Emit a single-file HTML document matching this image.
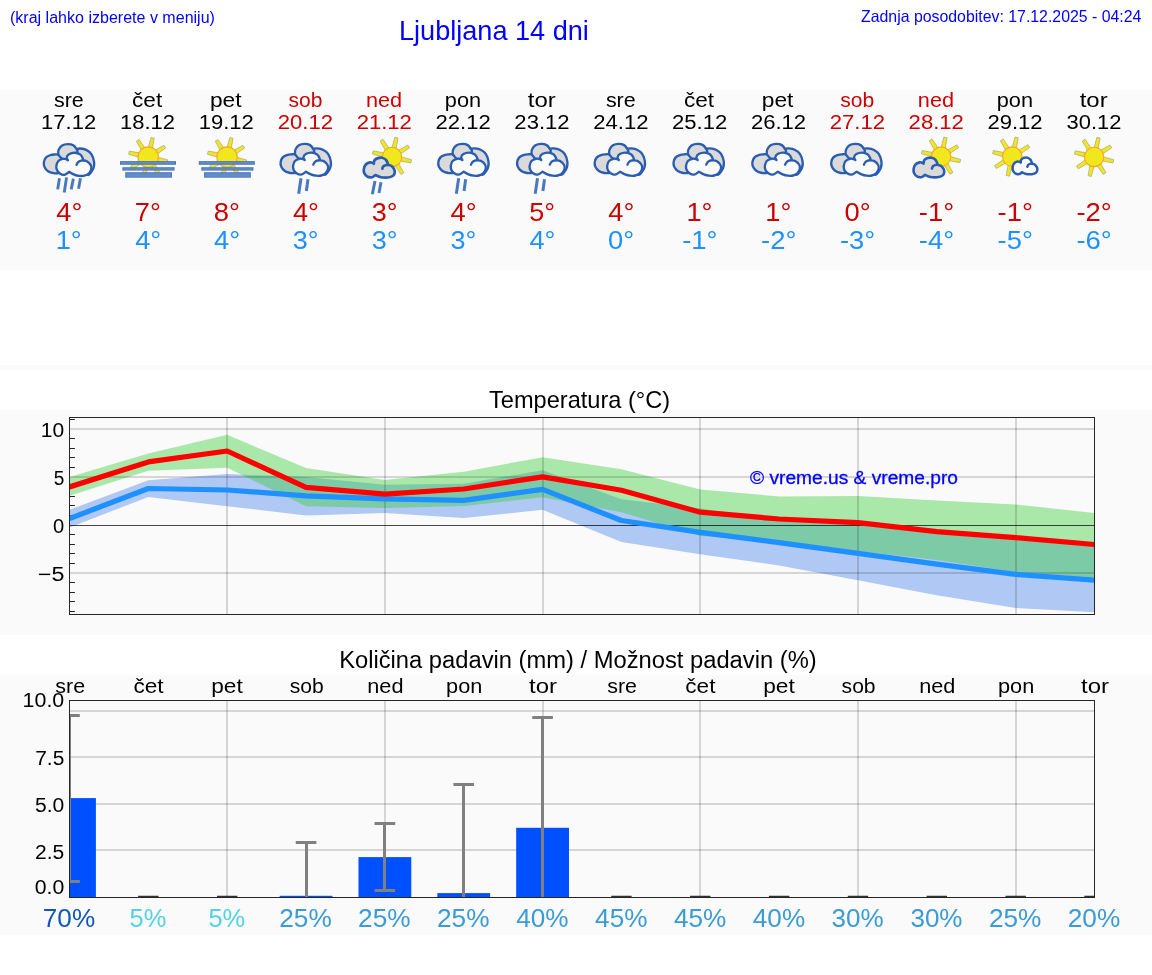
<!DOCTYPE html>
<html lang="sl"><head><meta charset="utf-8"><title>Ljubljana 14 dni</title>
<style>
html,body{margin:0;padding:0;background:#fff}
body{width:1152px;height:975px;position:relative;overflow:hidden;font-family:"Liberation Sans",sans-serif}
.h{position:absolute;color:#0000ff;white-space:nowrap;line-height:1;will-change:transform}
#hl{left:10.0px;top:8.6px;font-size:16.04px}
#hr{right:10.3px;top:9.4px;font-size:15.87px}
#ht{left:398.8px;top:16.5px;font-size:27.1px}
svg{position:absolute;left:0;top:0;will-change:transform}
svg text{font-family:"Liberation Sans",sans-serif}
</style></head><body>
<div class="h" id="hl">(kraj lahko izberete v meniju)</div>
<div class="h" id="ht">Ljubljana 14 dni</div>
<div class="h" id="hr">Zadnja posodobitev: 17.12.2025 - 04:24</div>
<svg width="1152" height="975" viewBox="0 0 1152 975">
<rect x="0" y="90" width="1152" height="180" fill="#fafafa"/>
<text x="53.99" y="106.50" font-size="20.48" fill="#000" textLength="29.77" lengthAdjust="spacingAndGlyphs">sre</text>
<text x="41.09" y="129.00" font-size="20.59" fill="#000" textLength="55.04" lengthAdjust="spacingAndGlyphs">17.12</text>
<path d="M76.44 148.94C77.11 148.87 78.83 148.38 80.45 148.54C82.08 148.70 84.37 148.99 86.18 149.91C88.00 150.84 90.02 152.11 91.34 154.10C92.66 156.08 93.73 159.54 94.09 161.83C94.45 164.13 94.03 166.13 93.52 167.85C93.01 169.57 91.99 170.96 91.05 172.15C90.12 173.34 89.29 175.49 87.90 175.01C86.52 174.54 84.56 172.15 82.75 169.28C80.93 166.42 78.07 161.21 77.01 157.82C75.96 154.43 76.54 150.42 76.44 148.94Z" fill="#dadada" stroke="#2a5db0" stroke-width="2.35" stroke-linejoin="round"/><path d="M58.39 173.18C57.58 173.18 55.24 173.50 53.52 173.18C51.80 172.87 49.57 172.32 48.07 171.29C46.58 170.26 45.22 168.47 44.52 166.99C43.82 165.51 43.68 163.94 43.89 162.41C44.10 160.88 44.75 159.02 45.78 157.82C46.81 156.63 48.60 155.80 50.08 155.24C51.56 154.69 53.31 154.59 54.67 154.50C56.02 154.40 57.07 154.12 58.22 154.67C59.36 155.22 60.80 155.86 61.54 157.82C62.29 159.78 63.21 163.86 62.69 166.42C62.16 168.98 59.11 172.05 58.39 173.18Z" fill="#dadada" stroke="#2a5db0" stroke-width="2.35" stroke-linejoin="round"/><path d="M58.22 154.38C58.29 153.62 58.03 151.28 58.68 149.80C59.33 148.32 60.59 146.46 62.11 145.50C63.64 144.55 65.98 144.10 67.85 144.07C69.71 144.04 71.84 144.47 73.29 145.33C74.74 146.19 75.89 148.10 76.56 149.23C77.22 150.35 78.18 150.66 77.30 152.09C76.42 153.52 73.72 156.68 71.28 157.82C68.85 158.97 64.87 159.54 62.69 158.97C60.51 158.40 58.96 155.15 58.22 154.38Z" fill="#dadada" stroke="#2a5db0" stroke-width="2.35" stroke-linejoin="round"/><path d="M69.28 171.86C68.47 172.36 65.98 174.58 64.41 174.84C62.83 175.10 61.08 174.24 59.82 173.41C58.56 172.58 57.42 171.12 56.84 169.86C56.27 168.60 56.16 167.28 56.38 165.85C56.61 164.41 57.17 162.41 58.22 161.26C59.27 160.11 61.32 159.30 62.69 158.97C64.05 158.63 65.53 159.05 66.41 159.26C67.29 159.47 67.70 160.07 67.96 160.23C67.75 159.78 66.53 158.53 66.70 157.54C66.87 156.54 67.65 155.06 68.99 154.27C70.33 153.48 72.81 152.71 74.72 152.78C76.63 152.85 79.09 153.69 80.45 154.67C81.82 155.65 82.46 157.73 82.92 158.68C83.38 159.64 83.16 160.11 83.20 160.40C83.80 160.54 85.54 160.54 86.76 161.26C87.97 161.98 89.72 163.46 90.48 164.70C91.25 165.94 91.58 167.28 91.34 168.71C91.10 170.14 90.20 172.13 89.05 173.30C87.90 174.46 86.09 175.27 84.46 175.70C82.84 176.13 81.03 176.07 79.31 175.87C77.59 175.68 75.82 175.22 74.15 174.56C72.48 173.89 70.09 172.31 69.28 171.86Z" fill="#fafafa" stroke="#2a5db0" stroke-width="2.35" stroke-linejoin="round"/><path d="M76.56 164.81C76.78 164.41 77.22 163.08 77.87 162.41C78.52 161.74 79.56 161.14 80.45 160.80C81.34 160.47 82.75 160.47 83.20 160.40" fill="none" stroke="#2a5db0" stroke-width="2.35" stroke-linecap="round"/><line x1="59.49" y1="178.31" x2="57.65" y2="189.38" stroke="#4a78be" stroke-width="2.9"/><line x1="66.57" y1="177.38" x2="64.23" y2="192.46" stroke="#4a78be" stroke-width="2.9"/><line x1="73.34" y1="178.62" x2="71.18" y2="189.38" stroke="#4a78be" stroke-width="2.9"/><line x1="80.42" y1="178.31" x2="78.57" y2="188.77" stroke="#4a78be" stroke-width="2.9"/>
<text x="56.37" y="220.80" font-size="25.08" fill="#cc0000" textLength="26.08" lengthAdjust="spacingAndGlyphs">4°</text>
<text x="55.65" y="248.80" font-size="25.08" fill="#1e90ff" textLength="26.06" lengthAdjust="spacingAndGlyphs">1°</text>
<text x="132.10" y="106.50" font-size="20.48" fill="#000" textLength="30.09" lengthAdjust="spacingAndGlyphs">čet</text>
<text x="119.94" y="129.00" font-size="20.59" fill="#000" textLength="55.04" lengthAdjust="spacingAndGlyphs">18.12</text>
<polygon points="157.17,161.33 167.02,163.14 167.76,159.92 158.12,157.24" fill="#f0e81c" stroke="#9c9c8c" stroke-width="0.65" stroke-linejoin="round"/><polygon points="151.56,166.44 157.24,174.68 160.03,172.93 155.12,164.21" fill="#f0e81c" stroke="#9c9c8c" stroke-width="0.65" stroke-linejoin="round"/><polygon points="143.97,166.08 142.16,175.92 145.37,176.67 148.06,167.02" fill="#f0e81c" stroke="#9c9c8c" stroke-width="0.65" stroke-linejoin="round"/><polygon points="138.86,160.46 130.62,166.14 132.36,168.94 141.08,164.02" fill="#f0e81c" stroke="#9c9c8c" stroke-width="0.65" stroke-linejoin="round"/><polygon points="139.22,152.87 129.37,151.06 128.63,154.28 138.27,156.96" fill="#f0e81c" stroke="#9c9c8c" stroke-width="0.65" stroke-linejoin="round"/><polygon points="144.84,147.76 139.16,139.52 136.36,141.27 141.27,149.99" fill="#f0e81c" stroke="#9c9c8c" stroke-width="0.65" stroke-linejoin="round"/><polygon points="152.42,148.12 154.24,138.28 151.02,137.53 148.33,147.18" fill="#f0e81c" stroke="#9c9c8c" stroke-width="0.65" stroke-linejoin="round"/><polygon points="157.53,153.74 165.78,148.06 164.03,145.26 155.31,150.18" fill="#f0e81c" stroke="#9c9c8c" stroke-width="0.65" stroke-linejoin="round"/><circle cx="148.20" cy="157.10" r="10.20" fill="#f0e81c" stroke="#f8a824" stroke-width="1.1"/><rect x="120.00" y="161.10" width="56.00" height="3.70" fill="#4a79c0"/><rect x="121.20" y="162.10" width="53.60" height="1.70" fill="#678bc6"/><rect x="122.40" y="167.20" width="52.20" height="3.40" fill="#4a79c0"/><rect x="123.60" y="168.20" width="49.80" height="1.40" fill="#678bc6"/><rect x="125.20" y="172.20" width="46.80" height="5.50" fill="#4a79c0"/><rect x="126.40" y="173.20" width="44.40" height="3.50" fill="#678bc6"/>
<text x="134.84" y="220.80" font-size="25.08" fill="#cc0000" textLength="26.05" lengthAdjust="spacingAndGlyphs">7°</text>
<text x="135.21" y="248.80" font-size="25.08" fill="#1e90ff" textLength="26.08" lengthAdjust="spacingAndGlyphs">4°</text>
<text x="209.96" y="106.50" font-size="20.48" fill="#000" textLength="31.57" lengthAdjust="spacingAndGlyphs">pet</text>
<text x="198.79" y="129.00" font-size="20.59" fill="#000" textLength="55.04" lengthAdjust="spacingAndGlyphs">19.12</text>
<polygon points="236.02,161.33 245.87,163.14 246.61,159.92 236.97,157.24" fill="#f0e81c" stroke="#9c9c8c" stroke-width="0.65" stroke-linejoin="round"/><polygon points="230.40,166.44 236.08,174.68 238.88,172.93 233.96,164.21" fill="#f0e81c" stroke="#9c9c8c" stroke-width="0.65" stroke-linejoin="round"/><polygon points="222.81,166.08 221.00,175.92 224.22,176.67 226.91,167.02" fill="#f0e81c" stroke="#9c9c8c" stroke-width="0.65" stroke-linejoin="round"/><polygon points="217.70,160.46 209.46,166.14 211.21,168.94 219.93,164.02" fill="#f0e81c" stroke="#9c9c8c" stroke-width="0.65" stroke-linejoin="round"/><polygon points="218.06,152.87 208.22,151.06 207.48,154.28 217.12,156.96" fill="#f0e81c" stroke="#9c9c8c" stroke-width="0.65" stroke-linejoin="round"/><polygon points="223.68,147.76 218.00,139.52 215.20,141.27 220.12,149.99" fill="#f0e81c" stroke="#9c9c8c" stroke-width="0.65" stroke-linejoin="round"/><polygon points="231.27,148.12 233.08,138.28 229.87,137.53 227.18,147.18" fill="#f0e81c" stroke="#9c9c8c" stroke-width="0.65" stroke-linejoin="round"/><polygon points="236.38,153.74 244.62,148.06 242.87,145.26 234.16,150.18" fill="#f0e81c" stroke="#9c9c8c" stroke-width="0.65" stroke-linejoin="round"/><circle cx="227.04" cy="157.10" r="10.20" fill="#f0e81c" stroke="#f8a824" stroke-width="1.1"/><rect x="198.85" y="161.10" width="56.00" height="3.70" fill="#4a79c0"/><rect x="200.05" y="162.10" width="53.60" height="1.70" fill="#678bc6"/><rect x="201.25" y="167.20" width="52.20" height="3.40" fill="#4a79c0"/><rect x="202.45" y="168.20" width="49.80" height="1.40" fill="#678bc6"/><rect x="204.05" y="172.20" width="46.80" height="5.50" fill="#4a79c0"/><rect x="205.25" y="173.20" width="44.40" height="3.50" fill="#678bc6"/>
<text x="213.72" y="220.80" font-size="25.08" fill="#cc0000" textLength="26.19" lengthAdjust="spacingAndGlyphs">8°</text>
<text x="214.06" y="248.80" font-size="25.08" fill="#1e90ff" textLength="26.08" lengthAdjust="spacingAndGlyphs">4°</text>
<text x="288.40" y="106.50" font-size="20.48" fill="#cc0000" textLength="33.98" lengthAdjust="spacingAndGlyphs">sob</text>
<text x="277.84" y="129.00" font-size="20.59" fill="#cc0000" textLength="55.20" lengthAdjust="spacingAndGlyphs">20.12</text>
<path d="M313.19 148.74C313.86 148.67 315.58 148.18 317.20 148.34C318.83 148.50 321.12 148.79 322.93 149.71C324.75 150.64 326.77 151.91 328.09 153.90C329.41 155.88 330.48 159.34 330.84 161.63C331.20 163.93 330.78 165.93 330.27 167.65C329.76 169.37 328.74 170.76 327.80 171.95C326.87 173.14 326.04 175.29 324.65 174.81C323.27 174.34 321.31 171.95 319.50 169.08C317.68 166.22 314.82 161.01 313.76 157.62C312.71 154.23 313.29 150.22 313.19 148.74Z" fill="#dadada" stroke="#2a5db0" stroke-width="2.35" stroke-linejoin="round"/><path d="M295.14 172.98C294.33 172.98 291.99 173.30 290.27 172.98C288.55 172.67 286.32 172.12 284.82 171.09C283.33 170.06 281.97 168.27 281.27 166.79C280.57 165.31 280.43 163.74 280.64 162.21C280.85 160.68 281.50 158.82 282.53 157.62C283.56 156.43 285.35 155.60 286.83 155.04C288.31 154.49 290.06 154.39 291.42 154.30C292.77 154.20 293.82 153.92 294.97 154.47C296.11 155.02 297.55 155.66 298.29 157.62C299.04 159.58 299.96 163.66 299.44 166.22C298.91 168.78 295.86 171.85 295.14 172.98Z" fill="#dadada" stroke="#2a5db0" stroke-width="2.35" stroke-linejoin="round"/><path d="M294.97 154.18C295.04 153.42 294.78 151.08 295.43 149.60C296.08 148.12 297.34 146.26 298.86 145.30C300.39 144.35 302.73 143.90 304.60 143.87C306.46 143.84 308.59 144.27 310.04 145.13C311.49 145.99 312.64 147.90 313.31 149.03C313.97 150.15 314.93 150.46 314.05 151.89C313.17 153.32 310.47 156.48 308.03 157.62C305.60 158.77 301.62 159.34 299.44 158.77C297.26 158.20 295.71 154.95 294.97 154.18Z" fill="#dadada" stroke="#2a5db0" stroke-width="2.35" stroke-linejoin="round"/><path d="M306.03 171.66C305.22 172.16 302.73 174.38 301.16 174.64C299.58 174.90 297.83 174.04 296.57 173.21C295.31 172.38 294.17 170.92 293.59 169.66C293.02 168.40 292.91 167.08 293.13 165.65C293.36 164.21 293.92 162.21 294.97 161.06C296.02 159.91 298.07 159.10 299.44 158.77C300.80 158.43 302.28 158.85 303.16 159.06C304.04 159.27 304.45 159.87 304.71 160.03C304.50 159.58 303.28 158.33 303.45 157.34C303.62 156.34 304.40 154.86 305.74 154.07C307.08 153.28 309.56 152.51 311.47 152.58C313.38 152.65 315.84 153.49 317.20 154.47C318.57 155.45 319.21 157.53 319.67 158.48C320.13 159.44 319.91 159.91 319.95 160.20C320.55 160.34 322.29 160.34 323.51 161.06C324.72 161.78 326.47 163.26 327.23 164.50C328.00 165.74 328.33 167.08 328.09 168.51C327.85 169.94 326.95 171.93 325.80 173.10C324.65 174.26 322.84 175.07 321.21 175.50C319.59 175.93 317.78 175.87 316.06 175.67C314.34 175.48 312.57 175.02 310.90 174.36C309.23 173.69 306.84 172.11 306.03 171.66Z" fill="#fafafa" stroke="#2a5db0" stroke-width="2.35" stroke-linejoin="round"/><path d="M313.31 164.61C313.53 164.21 313.97 162.88 314.62 162.21C315.27 161.54 316.31 160.94 317.20 160.60C318.09 160.27 319.50 160.27 319.95 160.20" fill="none" stroke="#2a5db0" stroke-width="2.35" stroke-linecap="round"/><line x1="301.00" y1="178.33" x2="298.67" y2="193.67" stroke="#4a78be" stroke-width="3.0"/><line x1="308.00" y1="179.33" x2="306.33" y2="191.00" stroke="#4a78be" stroke-width="3.0"/>
<text x="292.91" y="220.80" font-size="25.08" fill="#cc0000" textLength="26.08" lengthAdjust="spacingAndGlyphs">4°</text>
<text x="292.83" y="248.80" font-size="25.08" fill="#1e90ff" textLength="25.81" lengthAdjust="spacingAndGlyphs">3°</text>
<text x="365.96" y="106.50" font-size="20.48" fill="#cc0000" textLength="36.20" lengthAdjust="spacingAndGlyphs">ned</text>
<text x="356.68" y="129.00" font-size="20.59" fill="#cc0000" textLength="55.20" lengthAdjust="spacingAndGlyphs">21.12</text>
<polygon points="400.49,161.02 410.82,162.94 411.57,159.72 401.44,156.92" fill="#f0e81c" stroke="#9c9c8c" stroke-width="0.65" stroke-linejoin="round"/><polygon points="395.09,165.81 401.04,174.48 403.84,172.73 398.66,163.59" fill="#f0e81c" stroke="#9c9c8c" stroke-width="0.65" stroke-linejoin="round"/><polygon points="387.88,165.39 385.96,175.72 389.18,176.47 391.98,166.34" fill="#f0e81c" stroke="#9c9c8c" stroke-width="0.65" stroke-linejoin="round"/><polygon points="383.09,159.99 374.42,165.94 376.17,168.74 385.31,163.56" fill="#f0e81c" stroke="#9c9c8c" stroke-width="0.65" stroke-linejoin="round"/><polygon points="383.51,152.78 373.18,150.86 372.43,154.08 382.56,156.88" fill="#f0e81c" stroke="#9c9c8c" stroke-width="0.65" stroke-linejoin="round"/><polygon points="388.91,147.99 382.96,139.32 380.16,141.07 385.34,150.21" fill="#f0e81c" stroke="#9c9c8c" stroke-width="0.65" stroke-linejoin="round"/><polygon points="396.12,148.41 398.04,138.08 394.82,137.33 392.02,147.46" fill="#f0e81c" stroke="#9c9c8c" stroke-width="0.65" stroke-linejoin="round"/><polygon points="400.91,153.81 409.58,147.86 407.83,145.06 398.69,150.24" fill="#f0e81c" stroke="#9c9c8c" stroke-width="0.65" stroke-linejoin="round"/><circle cx="392.00" cy="156.90" r="9.70" fill="#f0e81c" stroke="#f8a824" stroke-width="1.1"/><path d="M375.39 175.07C374.86 175.42 373.51 176.92 372.20 177.21C370.90 177.50 368.87 177.43 367.57 176.81C366.26 176.18 365.01 174.68 364.38 173.44C363.75 172.21 363.61 170.84 363.80 169.39C363.99 167.94 364.52 165.91 365.54 164.75C366.55 163.59 368.63 162.73 369.88 162.44C371.14 162.15 372.41 162.80 373.07 163.01C373.73 163.23 373.70 163.59 373.82 163.71C373.96 163.11 373.94 161.05 374.64 160.12C375.33 159.18 376.76 158.48 378.00 158.09C379.23 157.70 380.75 157.51 382.05 157.80C383.36 158.09 384.87 158.91 385.82 159.83C386.77 160.75 387.37 162.46 387.73 163.30C388.09 164.14 387.92 164.61 387.96 164.87C388.52 165.04 390.33 165.26 391.32 165.91C392.32 166.57 393.35 167.75 393.93 168.81C394.51 169.87 394.94 171.13 394.80 172.29C394.66 173.44 394.22 174.89 393.06 175.76C391.90 176.63 389.87 177.26 387.85 177.50C385.82 177.74 382.97 177.62 380.89 177.21C378.82 176.81 376.31 175.42 375.39 175.07Z" fill="#dadada" stroke="#2a5db0" stroke-width="2.7" stroke-linejoin="round"/><path d="M382.34 168.64C382.49 168.28 382.68 167.06 383.21 166.49C383.74 165.92 384.74 165.49 385.53 165.22C386.32 164.95 387.56 164.93 387.96 164.87" fill="none" stroke="#2a5db0" stroke-width="2.7" stroke-linecap="round"/><line x1="375.00" y1="181.00" x2="372.33" y2="194.33" stroke="#4a78be" stroke-width="3.0"/><line x1="381.00" y1="182.33" x2="379.00" y2="193.00" stroke="#4a78be" stroke-width="3.0"/>
<text x="371.68" y="220.80" font-size="25.08" fill="#cc0000" textLength="25.81" lengthAdjust="spacingAndGlyphs">3°</text>
<text x="371.68" y="248.80" font-size="25.08" fill="#1e90ff" textLength="25.81" lengthAdjust="spacingAndGlyphs">3°</text>
<text x="444.83" y="106.50" font-size="20.48" fill="#000" textLength="36.22" lengthAdjust="spacingAndGlyphs">pon</text>
<text x="435.53" y="129.00" font-size="20.59" fill="#000" textLength="55.20" lengthAdjust="spacingAndGlyphs">22.12</text>
<path d="M470.88 148.74C471.55 148.67 473.27 148.18 474.90 148.34C476.52 148.50 478.81 148.79 480.63 149.71C482.44 150.64 484.47 151.91 485.78 153.90C487.10 155.88 488.17 159.34 488.53 161.63C488.90 163.93 488.47 165.93 487.96 167.65C487.45 169.37 486.43 170.76 485.50 171.95C484.56 173.14 483.73 175.29 482.34 174.81C480.96 174.34 479.00 171.95 477.19 169.08C475.37 166.22 472.51 161.01 471.46 157.62C470.41 154.23 470.98 150.22 470.88 148.74Z" fill="#dadada" stroke="#2a5db0" stroke-width="2.35" stroke-linejoin="round"/><path d="M452.83 172.98C452.02 172.98 449.68 173.30 447.96 172.98C446.24 172.67 444.02 172.12 442.52 171.09C441.02 170.06 439.66 168.27 438.96 166.79C438.27 165.31 438.12 163.74 438.33 162.21C438.54 160.68 439.19 158.82 440.22 157.62C441.26 156.43 443.04 155.60 444.52 155.04C446.00 154.49 447.75 154.39 449.11 154.30C450.46 154.20 451.51 153.92 452.66 154.47C453.81 155.02 455.24 155.66 455.98 157.62C456.73 159.58 457.66 163.66 457.13 166.22C456.60 168.78 453.55 171.85 452.83 172.98Z" fill="#dadada" stroke="#2a5db0" stroke-width="2.35" stroke-linejoin="round"/><path d="M452.66 154.18C452.74 153.42 452.47 151.08 453.12 149.60C453.77 148.12 455.03 146.26 456.56 145.30C458.09 144.35 460.43 143.90 462.29 143.87C464.15 143.84 466.28 144.27 467.73 145.13C469.18 145.99 470.33 147.90 471.00 149.03C471.67 150.15 472.62 150.46 471.74 151.89C470.86 153.32 468.16 156.48 465.73 157.62C463.29 158.77 459.31 159.34 457.13 158.77C454.95 158.20 453.41 154.95 452.66 154.18Z" fill="#dadada" stroke="#2a5db0" stroke-width="2.35" stroke-linejoin="round"/><path d="M463.72 171.66C462.91 172.16 460.43 174.38 458.85 174.64C457.27 174.90 455.53 174.04 454.26 173.21C453.00 172.38 451.86 170.92 451.28 169.66C450.71 168.40 450.60 167.08 450.83 165.65C451.06 164.21 451.61 162.21 452.66 161.06C453.71 159.91 455.76 159.10 457.13 158.77C458.50 158.43 459.98 158.85 460.85 159.06C461.73 159.27 462.14 159.87 462.40 160.03C462.19 159.58 460.97 158.33 461.14 157.34C461.31 156.34 462.10 154.86 463.43 154.07C464.77 153.28 467.25 152.51 469.16 152.58C471.07 152.65 473.53 153.49 474.90 154.47C476.26 155.45 476.90 157.53 477.36 158.48C477.82 159.44 477.60 159.91 477.65 160.20C478.24 160.34 479.99 160.34 481.20 161.06C482.41 161.78 484.16 163.26 484.92 164.50C485.69 165.74 486.02 167.08 485.78 168.51C485.54 169.94 484.64 171.93 483.49 173.10C482.34 174.26 480.53 175.07 478.91 175.50C477.28 175.93 475.47 175.87 473.75 175.67C472.03 175.48 470.26 175.02 468.59 174.36C466.92 173.69 464.53 172.11 463.72 171.66Z" fill="#fafafa" stroke="#2a5db0" stroke-width="2.35" stroke-linejoin="round"/><path d="M471.00 164.61C471.22 164.21 471.67 162.88 472.32 162.21C472.97 161.54 474.01 160.94 474.90 160.60C475.78 160.27 477.19 160.27 477.65 160.20" fill="none" stroke="#2a5db0" stroke-width="2.35" stroke-linecap="round"/><line x1="458.69" y1="178.33" x2="456.36" y2="193.67" stroke="#4a78be" stroke-width="3.0"/><line x1="465.69" y1="179.33" x2="464.03" y2="191.00" stroke="#4a78be" stroke-width="3.0"/>
<text x="450.60" y="220.80" font-size="25.08" fill="#cc0000" textLength="26.08" lengthAdjust="spacingAndGlyphs">4°</text>
<text x="450.52" y="248.80" font-size="25.08" fill="#1e90ff" textLength="25.81" lengthAdjust="spacingAndGlyphs">3°</text>
<text x="527.81" y="106.50" font-size="20.48" fill="#000" textLength="27.97" lengthAdjust="spacingAndGlyphs">tor</text>
<text x="514.38" y="129.00" font-size="20.59" fill="#000" textLength="55.20" lengthAdjust="spacingAndGlyphs">23.12</text>
<path d="M549.73 148.74C550.40 148.67 552.12 148.18 553.74 148.34C555.36 148.50 557.66 148.79 559.47 149.71C561.29 150.64 563.31 151.91 564.63 153.90C565.95 155.88 567.02 159.34 567.38 161.63C567.74 163.93 567.31 165.93 566.81 167.65C566.30 169.37 565.28 170.76 564.34 171.95C563.41 173.14 562.58 175.29 561.19 174.81C559.81 174.34 557.85 171.95 556.03 169.08C554.22 166.22 551.35 161.01 550.30 157.62C549.25 154.23 549.83 150.22 549.73 148.74Z" fill="#dadada" stroke="#2a5db0" stroke-width="2.35" stroke-linejoin="round"/><path d="M531.68 172.98C530.87 172.98 528.53 173.30 526.81 172.98C525.09 172.67 522.86 172.12 521.36 171.09C519.86 170.06 518.51 168.27 517.81 166.79C517.11 165.31 516.97 163.74 517.18 162.21C517.39 160.68 518.04 158.82 519.07 157.62C520.10 156.43 521.89 155.60 523.37 155.04C524.85 154.49 526.60 154.39 527.95 154.30C529.31 154.20 530.36 153.92 531.51 154.47C532.65 155.02 534.08 155.66 534.83 157.62C535.57 159.58 536.50 163.66 535.98 166.22C535.45 168.78 532.39 171.85 531.68 172.98Z" fill="#dadada" stroke="#2a5db0" stroke-width="2.35" stroke-linejoin="round"/><path d="M531.51 154.18C531.58 153.42 531.32 151.08 531.96 149.60C532.61 148.12 533.87 146.26 535.40 145.30C536.93 144.35 539.27 143.90 541.13 143.87C543.00 143.84 545.13 144.27 546.58 145.13C548.03 145.99 549.18 147.90 549.84 149.03C550.51 150.15 551.47 150.46 550.59 151.89C549.71 153.32 547.01 156.48 544.57 157.62C542.14 158.77 538.15 159.34 535.98 158.77C533.80 158.20 532.25 154.95 531.51 154.18Z" fill="#dadada" stroke="#2a5db0" stroke-width="2.35" stroke-linejoin="round"/><path d="M542.57 171.66C541.75 172.16 539.27 174.38 537.70 174.64C536.12 174.90 534.37 174.04 533.11 173.21C531.85 172.38 530.70 170.92 530.13 169.66C529.56 168.40 529.44 167.08 529.67 165.65C529.90 164.21 530.46 162.21 531.51 161.06C532.56 159.91 534.61 159.10 535.98 158.77C537.34 158.43 538.82 158.85 539.70 159.06C540.58 159.27 540.99 159.87 541.25 160.03C541.04 159.58 539.82 158.33 539.99 157.34C540.16 156.34 540.94 154.86 542.28 154.07C543.62 153.28 546.10 152.51 548.01 152.58C549.92 152.65 552.38 153.49 553.74 154.47C555.11 155.45 555.75 157.53 556.21 158.48C556.66 159.44 556.44 159.91 556.49 160.20C557.08 160.34 558.83 160.34 560.04 161.06C561.26 161.78 563.01 163.26 563.77 164.50C564.53 165.74 564.87 167.08 564.63 168.51C564.39 169.94 563.48 171.93 562.34 173.10C561.19 174.26 559.38 175.07 557.75 175.50C556.13 175.93 554.31 175.87 552.59 175.67C550.88 175.48 549.11 175.02 547.44 174.36C545.77 173.69 543.38 172.11 542.57 171.66Z" fill="#fafafa" stroke="#2a5db0" stroke-width="2.35" stroke-linejoin="round"/><path d="M549.84 164.61C550.06 164.21 550.51 162.88 551.16 162.21C551.81 161.54 552.85 160.94 553.74 160.60C554.63 160.27 556.03 160.27 556.49 160.20" fill="none" stroke="#2a5db0" stroke-width="2.35" stroke-linecap="round"/><line x1="537.54" y1="178.33" x2="535.20" y2="193.67" stroke="#4a78be" stroke-width="3.0"/><line x1="544.54" y1="179.33" x2="542.87" y2="191.00" stroke="#4a78be" stroke-width="3.0"/>
<text x="529.33" y="220.80" font-size="25.08" fill="#cc0000" textLength="25.84" lengthAdjust="spacingAndGlyphs">5°</text>
<text x="529.44" y="248.80" font-size="25.08" fill="#1e90ff" textLength="26.08" lengthAdjust="spacingAndGlyphs">4°</text>
<text x="605.91" y="106.50" font-size="20.48" fill="#000" textLength="29.77" lengthAdjust="spacingAndGlyphs">sre</text>
<text x="593.22" y="129.00" font-size="20.59" fill="#000" textLength="55.20" lengthAdjust="spacingAndGlyphs">24.12</text>
<path d="M627.29 148.74C627.96 148.67 629.68 148.18 631.30 148.34C632.93 148.50 635.22 148.79 637.03 149.71C638.85 150.64 640.87 151.91 642.19 153.90C643.51 155.88 644.58 159.34 644.94 161.63C645.30 163.93 644.88 165.93 644.37 167.65C643.86 169.37 642.84 170.76 641.90 171.95C640.97 173.14 640.14 175.29 638.75 174.81C637.37 174.34 635.41 171.95 633.60 169.08C631.78 166.22 628.92 161.01 627.86 157.62C626.81 154.23 627.39 150.22 627.29 148.74Z" fill="#dadada" stroke="#2a5db0" stroke-width="2.35" stroke-linejoin="round"/><path d="M609.24 172.98C608.43 172.98 606.09 173.30 604.37 172.98C602.65 172.67 600.42 172.12 598.92 171.09C597.43 170.06 596.07 168.27 595.37 166.79C594.67 165.31 594.53 163.74 594.74 162.21C594.95 160.68 595.60 158.82 596.63 157.62C597.66 156.43 599.45 155.60 600.93 155.04C602.41 154.49 604.16 154.39 605.52 154.30C606.87 154.20 607.92 153.92 609.07 154.47C610.21 155.02 611.65 155.66 612.39 157.62C613.14 159.58 614.06 163.66 613.54 166.22C613.01 168.78 609.96 171.85 609.24 172.98Z" fill="#dadada" stroke="#2a5db0" stroke-width="2.35" stroke-linejoin="round"/><path d="M609.07 154.18C609.14 153.42 608.88 151.08 609.53 149.60C610.18 148.12 611.44 146.26 612.96 145.30C614.49 144.35 616.83 143.90 618.70 143.87C620.56 143.84 622.69 144.27 624.14 145.13C625.59 145.99 626.74 147.90 627.41 149.03C628.07 150.15 629.03 150.46 628.15 151.89C627.27 153.32 624.57 156.48 622.13 157.62C619.70 158.77 615.72 159.34 613.54 158.77C611.36 158.20 609.81 154.95 609.07 154.18Z" fill="#dadada" stroke="#2a5db0" stroke-width="2.35" stroke-linejoin="round"/><path d="M620.13 171.66C619.32 172.16 616.83 174.38 615.26 174.64C613.68 174.90 611.93 174.04 610.67 173.21C609.41 172.38 608.27 170.92 607.69 169.66C607.12 168.40 607.01 167.08 607.23 165.65C607.46 164.21 608.02 162.21 609.07 161.06C610.12 159.91 612.17 159.10 613.54 158.77C614.90 158.43 616.38 158.85 617.26 159.06C618.14 159.27 618.55 159.87 618.81 160.03C618.60 159.58 617.38 158.33 617.55 157.34C617.72 156.34 618.50 154.86 619.84 154.07C621.18 153.28 623.66 152.51 625.57 152.58C627.48 152.65 629.94 153.49 631.30 154.47C632.67 155.45 633.31 157.53 633.77 158.48C634.23 159.44 634.01 159.91 634.05 160.20C634.65 160.34 636.39 160.34 637.61 161.06C638.82 161.78 640.57 163.26 641.33 164.50C642.10 165.74 642.43 167.08 642.19 168.51C641.95 169.94 641.05 171.93 639.90 173.10C638.75 174.26 636.94 175.07 635.31 175.50C633.69 175.93 631.88 175.87 630.16 175.67C628.44 175.48 626.67 175.02 625.00 174.36C623.33 173.69 620.94 172.11 620.13 171.66Z" fill="#fafafa" stroke="#2a5db0" stroke-width="2.35" stroke-linejoin="round"/><path d="M627.41 164.61C627.63 164.21 628.07 162.88 628.72 162.21C629.37 161.54 630.41 160.94 631.30 160.60C632.19 160.27 633.60 160.27 634.05 160.20" fill="none" stroke="#2a5db0" stroke-width="2.35" stroke-linecap="round"/>
<text x="608.29" y="220.80" font-size="25.08" fill="#cc0000" textLength="26.08" lengthAdjust="spacingAndGlyphs">4°</text>
<text x="608.05" y="248.80" font-size="25.08" fill="#1e90ff" textLength="26.11" lengthAdjust="spacingAndGlyphs">0°</text>
<text x="684.03" y="106.50" font-size="20.48" fill="#000" textLength="30.09" lengthAdjust="spacingAndGlyphs">čet</text>
<text x="672.07" y="129.00" font-size="20.59" fill="#000" textLength="55.20" lengthAdjust="spacingAndGlyphs">25.12</text>
<path d="M706.14 148.74C706.81 148.67 708.53 148.18 710.15 148.34C711.77 148.50 714.06 148.79 715.88 149.71C717.69 150.64 719.72 151.91 721.04 153.90C722.36 155.88 723.43 159.34 723.79 161.63C724.15 163.93 723.72 165.93 723.21 167.65C722.71 169.37 721.69 170.76 720.75 171.95C719.81 173.14 718.98 175.29 717.60 174.81C716.21 174.34 714.26 171.95 712.44 169.08C710.63 166.22 707.76 161.01 706.71 157.62C705.66 154.23 706.23 150.22 706.14 148.74Z" fill="#dadada" stroke="#2a5db0" stroke-width="2.35" stroke-linejoin="round"/><path d="M688.09 172.98C687.27 172.98 684.93 173.30 683.21 172.98C681.50 172.67 679.27 172.12 677.77 171.09C676.27 170.06 674.92 168.27 674.22 166.79C673.52 165.31 673.38 163.74 673.59 162.21C673.80 160.68 674.45 158.82 675.48 157.62C676.51 156.43 678.30 155.60 679.78 155.04C681.26 154.49 683.00 154.39 684.36 154.30C685.72 154.20 686.77 153.92 687.91 154.47C689.06 155.02 690.49 155.66 691.24 157.62C691.98 159.58 692.91 163.66 692.38 166.22C691.86 168.78 688.80 171.85 688.09 172.98Z" fill="#dadada" stroke="#2a5db0" stroke-width="2.35" stroke-linejoin="round"/><path d="M687.91 154.18C687.99 153.42 687.72 151.08 688.37 149.60C689.02 148.12 690.28 146.26 691.81 145.30C693.34 144.35 695.68 143.90 697.54 143.87C699.40 143.84 701.53 144.27 702.99 145.13C704.44 145.99 705.58 147.90 706.25 149.03C706.92 150.15 707.88 150.46 707.00 151.89C706.12 153.32 703.42 156.48 700.98 157.62C698.54 158.77 694.56 159.34 692.38 158.77C690.21 158.20 688.66 154.95 687.91 154.18Z" fill="#dadada" stroke="#2a5db0" stroke-width="2.35" stroke-linejoin="round"/><path d="M698.97 171.66C698.16 172.16 695.68 174.38 694.10 174.64C692.53 174.90 690.78 174.04 689.52 173.21C688.26 172.38 687.11 170.92 686.54 169.66C685.97 168.40 685.85 167.08 686.08 165.65C686.31 164.21 686.86 162.21 687.91 161.06C688.96 159.91 691.02 159.10 692.38 158.77C693.75 158.43 695.23 158.85 696.11 159.06C696.99 159.27 697.40 159.87 697.66 160.03C697.45 159.58 696.22 158.33 696.40 157.34C696.57 156.34 697.35 154.86 698.69 154.07C700.02 153.28 702.51 152.51 704.42 152.58C706.33 152.65 708.78 153.49 710.15 154.47C711.51 155.45 712.15 157.53 712.61 158.48C713.07 159.44 712.85 159.91 712.90 160.20C713.49 160.34 715.24 160.34 716.45 161.06C717.67 161.78 719.41 163.26 720.18 164.50C720.94 165.74 721.28 167.08 721.04 168.51C720.80 169.94 719.89 171.93 718.74 173.10C717.60 174.26 715.78 175.07 714.16 175.50C712.54 175.93 710.72 175.87 709.00 175.67C707.28 175.48 705.52 175.02 703.85 174.36C702.17 173.69 699.79 172.11 698.97 171.66Z" fill="#fafafa" stroke="#2a5db0" stroke-width="2.35" stroke-linejoin="round"/><path d="M706.25 164.61C706.47 164.21 706.92 162.88 707.57 162.21C708.22 161.54 709.26 160.94 710.15 160.60C711.04 160.27 712.44 160.27 712.90 160.20" fill="none" stroke="#2a5db0" stroke-width="2.35" stroke-linecap="round"/>
<text x="686.42" y="220.80" font-size="25.08" fill="#cc0000" textLength="26.06" lengthAdjust="spacingAndGlyphs">1°</text>
<text x="682.21" y="248.80" font-size="25.08" fill="#1e90ff" textLength="35.34" lengthAdjust="spacingAndGlyphs">-1°</text>
<text x="761.88" y="106.50" font-size="20.48" fill="#000" textLength="31.57" lengthAdjust="spacingAndGlyphs">pet</text>
<text x="750.91" y="129.00" font-size="20.59" fill="#000" textLength="55.20" lengthAdjust="spacingAndGlyphs">26.12</text>
<path d="M784.98 148.74C785.65 148.67 787.37 148.18 789.00 148.34C790.62 148.50 792.91 148.79 794.73 149.71C796.54 150.64 798.57 151.91 799.88 153.90C801.20 155.88 802.27 159.34 802.63 161.63C803.00 163.93 802.57 165.93 802.06 167.65C801.55 169.37 800.53 170.76 799.60 171.95C798.66 173.14 797.83 175.29 796.44 174.81C795.06 174.34 793.10 171.95 791.29 169.08C789.47 166.22 786.61 161.01 785.56 157.62C784.51 154.23 785.08 150.22 784.98 148.74Z" fill="#dadada" stroke="#2a5db0" stroke-width="2.35" stroke-linejoin="round"/><path d="M766.93 172.98C766.12 172.98 763.78 173.30 762.06 172.98C760.34 172.67 758.12 172.12 756.62 171.09C755.12 170.06 753.76 168.27 753.06 166.79C752.37 165.31 752.22 163.74 752.43 162.21C752.64 160.68 753.29 158.82 754.32 157.62C755.36 156.43 757.14 155.60 758.62 155.04C760.10 154.49 761.85 154.39 763.21 154.30C764.56 154.20 765.61 153.92 766.76 154.47C767.91 155.02 769.34 155.66 770.08 157.62C770.83 159.58 771.76 163.66 771.23 166.22C770.70 168.78 767.65 171.85 766.93 172.98Z" fill="#dadada" stroke="#2a5db0" stroke-width="2.35" stroke-linejoin="round"/><path d="M766.76 154.18C766.84 153.42 766.57 151.08 767.22 149.60C767.87 148.12 769.13 146.26 770.66 145.30C772.19 144.35 774.53 143.90 776.39 143.87C778.25 143.84 780.38 144.27 781.83 145.13C783.28 145.99 784.43 147.90 785.10 149.03C785.77 150.15 786.72 150.46 785.84 151.89C784.96 153.32 782.26 156.48 779.83 157.62C777.39 158.77 773.41 159.34 771.23 158.77C769.05 158.20 767.51 154.95 766.76 154.18Z" fill="#dadada" stroke="#2a5db0" stroke-width="2.35" stroke-linejoin="round"/><path d="M777.82 171.66C777.01 172.16 774.53 174.38 772.95 174.64C771.37 174.90 769.63 174.04 768.36 173.21C767.10 172.38 765.96 170.92 765.38 169.66C764.81 168.40 764.70 167.08 764.93 165.65C765.16 164.21 765.71 162.21 766.76 161.06C767.81 159.91 769.86 159.10 771.23 158.77C772.60 158.43 774.08 158.85 774.95 159.06C775.83 159.27 776.24 159.87 776.50 160.03C776.29 159.58 775.07 158.33 775.24 157.34C775.41 156.34 776.20 154.86 777.53 154.07C778.87 153.28 781.35 152.51 783.26 152.58C785.17 152.65 787.63 153.49 789.00 154.47C790.36 155.45 791.00 157.53 791.46 158.48C791.92 159.44 791.70 159.91 791.75 160.20C792.34 160.34 794.09 160.34 795.30 161.06C796.51 161.78 798.26 163.26 799.02 164.50C799.79 165.74 800.12 167.08 799.88 168.51C799.64 169.94 798.74 171.93 797.59 173.10C796.44 174.26 794.63 175.07 793.01 175.50C791.38 175.93 789.57 175.87 787.85 175.67C786.13 175.48 784.36 175.02 782.69 174.36C781.02 173.69 778.63 172.11 777.82 171.66Z" fill="#fafafa" stroke="#2a5db0" stroke-width="2.35" stroke-linejoin="round"/><path d="M785.10 164.61C785.32 164.21 785.77 162.88 786.42 162.21C787.07 161.54 788.11 160.94 789.00 160.60C789.88 160.27 791.29 160.27 791.75 160.20" fill="none" stroke="#2a5db0" stroke-width="2.35" stroke-linecap="round"/>
<text x="765.26" y="220.80" font-size="25.08" fill="#cc0000" textLength="26.06" lengthAdjust="spacingAndGlyphs">1°</text>
<text x="761.06" y="248.80" font-size="25.08" fill="#1e90ff" textLength="35.34" lengthAdjust="spacingAndGlyphs">-2°</text>
<text x="840.32" y="106.50" font-size="20.48" fill="#cc0000" textLength="33.98" lengthAdjust="spacingAndGlyphs">sob</text>
<text x="829.76" y="129.00" font-size="20.59" fill="#cc0000" textLength="55.20" lengthAdjust="spacingAndGlyphs">27.12</text>
<path d="M863.83 148.74C864.50 148.67 866.22 148.18 867.84 148.34C869.46 148.50 871.76 148.79 873.57 149.71C875.39 150.64 877.41 151.91 878.73 153.90C880.05 155.88 881.12 159.34 881.48 161.63C881.84 163.93 881.41 165.93 880.91 167.65C880.40 169.37 879.38 170.76 878.44 171.95C877.51 173.14 876.68 175.29 875.29 174.81C873.91 174.34 871.95 171.95 870.13 169.08C868.32 166.22 865.45 161.01 864.40 157.62C863.35 154.23 863.93 150.22 863.83 148.74Z" fill="#dadada" stroke="#2a5db0" stroke-width="2.35" stroke-linejoin="round"/><path d="M845.78 172.98C844.97 172.98 842.63 173.30 840.91 172.98C839.19 172.67 836.96 172.12 835.46 171.09C833.96 170.06 832.61 168.27 831.91 166.79C831.21 165.31 831.07 163.74 831.28 162.21C831.49 160.68 832.14 158.82 833.17 157.62C834.20 156.43 835.99 155.60 837.47 155.04C838.95 154.49 840.70 154.39 842.05 154.30C843.41 154.20 844.46 153.92 845.61 154.47C846.75 155.02 848.18 155.66 848.93 157.62C849.67 159.58 850.60 163.66 850.08 166.22C849.55 168.78 846.49 171.85 845.78 172.98Z" fill="#dadada" stroke="#2a5db0" stroke-width="2.35" stroke-linejoin="round"/><path d="M845.61 154.18C845.68 153.42 845.42 151.08 846.06 149.60C846.71 148.12 847.97 146.26 849.50 145.30C851.03 144.35 853.37 143.90 855.23 143.87C857.10 143.84 859.23 144.27 860.68 145.13C862.13 145.99 863.28 147.90 863.94 149.03C864.61 150.15 865.57 150.46 864.69 151.89C863.81 153.32 861.11 156.48 858.67 157.62C856.24 158.77 852.25 159.34 850.08 158.77C847.90 158.20 846.35 154.95 845.61 154.18Z" fill="#dadada" stroke="#2a5db0" stroke-width="2.35" stroke-linejoin="round"/><path d="M856.67 171.66C855.85 172.16 853.37 174.38 851.80 174.64C850.22 174.90 848.47 174.04 847.21 173.21C845.95 172.38 844.80 170.92 844.23 169.66C843.66 168.40 843.54 167.08 843.77 165.65C844.00 164.21 844.56 162.21 845.61 161.06C846.66 159.91 848.71 159.10 850.08 158.77C851.44 158.43 852.92 158.85 853.80 159.06C854.68 159.27 855.09 159.87 855.35 160.03C855.14 159.58 853.92 158.33 854.09 157.34C854.26 156.34 855.04 154.86 856.38 154.07C857.72 153.28 860.20 152.51 862.11 152.58C864.02 152.65 866.48 153.49 867.84 154.47C869.21 155.45 869.85 157.53 870.31 158.48C870.76 159.44 870.54 159.91 870.59 160.20C871.18 160.34 872.93 160.34 874.14 161.06C875.36 161.78 877.11 163.26 877.87 164.50C878.63 165.74 878.97 167.08 878.73 168.51C878.49 169.94 877.58 171.93 876.44 173.10C875.29 174.26 873.48 175.07 871.85 175.50C870.23 175.93 868.41 175.87 866.69 175.67C864.98 175.48 863.21 175.02 861.54 174.36C859.87 173.69 857.48 172.11 856.67 171.66Z" fill="#fafafa" stroke="#2a5db0" stroke-width="2.35" stroke-linejoin="round"/><path d="M863.94 164.61C864.16 164.21 864.61 162.88 865.26 162.21C865.91 161.54 866.95 160.94 867.84 160.60C868.73 160.27 870.13 160.27 870.59 160.20" fill="none" stroke="#2a5db0" stroke-width="2.35" stroke-linecap="round"/>
<text x="844.59" y="220.80" font-size="25.08" fill="#cc0000" textLength="26.11" lengthAdjust="spacingAndGlyphs">0°</text>
<text x="839.91" y="248.80" font-size="25.08" fill="#1e90ff" textLength="35.34" lengthAdjust="spacingAndGlyphs">-3°</text>
<text x="917.88" y="106.50" font-size="20.48" fill="#cc0000" textLength="36.20" lengthAdjust="spacingAndGlyphs">ned</text>
<text x="908.61" y="129.00" font-size="20.59" fill="#cc0000" textLength="55.20" lengthAdjust="spacingAndGlyphs">28.12</text>
<polygon points="949.59,160.72 959.92,162.64 960.67,159.42 950.54,156.62" fill="#f0e81c" stroke="#9c9c8c" stroke-width="0.65" stroke-linejoin="round"/><polygon points="944.19,165.51 950.14,174.18 952.94,172.43 947.76,163.29" fill="#f0e81c" stroke="#9c9c8c" stroke-width="0.65" stroke-linejoin="round"/><polygon points="936.98,165.09 935.06,175.42 938.28,176.17 941.08,166.04" fill="#f0e81c" stroke="#9c9c8c" stroke-width="0.65" stroke-linejoin="round"/><polygon points="932.19,159.69 923.52,165.64 925.27,168.44 934.41,163.26" fill="#f0e81c" stroke="#9c9c8c" stroke-width="0.65" stroke-linejoin="round"/><polygon points="932.61,152.48 922.28,150.56 921.53,153.78 931.66,156.58" fill="#f0e81c" stroke="#9c9c8c" stroke-width="0.65" stroke-linejoin="round"/><polygon points="938.01,147.69 932.06,139.02 929.26,140.77 934.44,149.91" fill="#f0e81c" stroke="#9c9c8c" stroke-width="0.65" stroke-linejoin="round"/><polygon points="945.22,148.11 947.14,137.78 943.92,137.03 941.12,147.16" fill="#f0e81c" stroke="#9c9c8c" stroke-width="0.65" stroke-linejoin="round"/><polygon points="950.01,153.51 958.68,147.56 956.93,144.76 947.79,149.94" fill="#f0e81c" stroke="#9c9c8c" stroke-width="0.65" stroke-linejoin="round"/><circle cx="941.10" cy="156.60" r="9.70" fill="#f0e81c" stroke="#f8a824" stroke-width="1.1"/><path d="M925.06 174.87C924.54 175.22 923.20 176.70 921.91 176.99C920.62 177.27 918.62 177.21 917.33 176.58C916.04 175.96 914.80 174.48 914.17 173.26C913.55 172.04 913.41 170.68 913.60 169.25C913.79 167.82 914.32 165.81 915.32 164.66C916.32 163.52 918.38 162.66 919.62 162.37C920.86 162.09 922.12 162.74 922.77 162.95C923.42 163.16 923.39 163.52 923.52 163.63C923.65 163.04 923.63 161.01 924.32 160.08C925.01 159.15 926.42 158.46 927.64 158.07C928.86 157.69 930.36 157.50 931.65 157.79C932.94 158.07 934.44 158.89 935.38 159.79C936.31 160.70 936.92 162.40 937.27 163.23C937.62 164.06 937.46 164.52 937.50 164.78C938.05 164.95 939.84 165.16 940.82 165.81C941.81 166.46 942.83 167.63 943.40 168.68C943.97 169.73 944.40 170.97 944.26 172.11C944.12 173.26 943.69 174.69 942.54 175.55C941.40 176.41 939.39 177.03 937.38 177.27C935.38 177.51 932.56 177.39 930.51 176.99C928.45 176.58 925.97 175.22 925.06 174.87Z" fill="#dadada" stroke="#2a5db0" stroke-width="2.6" stroke-linejoin="round"/><path d="M931.94 168.50C932.08 168.15 932.27 166.95 932.80 166.38C933.32 165.82 934.31 165.39 935.09 165.12C935.87 164.86 937.10 164.84 937.50 164.78" fill="none" stroke="#2a5db0" stroke-width="2.6" stroke-linecap="round"/>
<text x="918.75" y="220.80" font-size="25.08" fill="#cc0000" textLength="35.34" lengthAdjust="spacingAndGlyphs">-1°</text>
<text x="918.75" y="248.80" font-size="25.08" fill="#1e90ff" textLength="35.34" lengthAdjust="spacingAndGlyphs">-4°</text>
<text x="996.75" y="106.50" font-size="20.48" fill="#000" textLength="36.22" lengthAdjust="spacingAndGlyphs">pon</text>
<text x="987.45" y="129.00" font-size="20.59" fill="#000" textLength="55.20" lengthAdjust="spacingAndGlyphs">29.12</text>
<polygon points="1020.69,160.72 1031.02,162.64 1031.77,159.42 1021.64,156.62" fill="#f0e81c" stroke="#9c9c8c" stroke-width="0.65" stroke-linejoin="round"/><polygon points="1015.29,165.51 1021.24,174.18 1024.04,172.43 1018.86,163.29" fill="#f0e81c" stroke="#9c9c8c" stroke-width="0.65" stroke-linejoin="round"/><polygon points="1008.08,165.09 1006.16,175.42 1009.38,176.17 1012.18,166.04" fill="#f0e81c" stroke="#9c9c8c" stroke-width="0.65" stroke-linejoin="round"/><polygon points="1003.29,159.69 994.62,165.64 996.37,168.44 1005.51,163.26" fill="#f0e81c" stroke="#9c9c8c" stroke-width="0.65" stroke-linejoin="round"/><polygon points="1003.71,152.48 993.38,150.56 992.63,153.78 1002.76,156.58" fill="#f0e81c" stroke="#9c9c8c" stroke-width="0.65" stroke-linejoin="round"/><polygon points="1009.11,147.69 1003.16,139.02 1000.36,140.77 1005.54,149.91" fill="#f0e81c" stroke="#9c9c8c" stroke-width="0.65" stroke-linejoin="round"/><polygon points="1016.32,148.11 1018.24,137.78 1015.02,137.03 1012.22,147.16" fill="#f0e81c" stroke="#9c9c8c" stroke-width="0.65" stroke-linejoin="round"/><polygon points="1021.11,153.51 1029.78,147.56 1028.03,144.76 1018.89,149.94" fill="#f0e81c" stroke="#9c9c8c" stroke-width="0.65" stroke-linejoin="round"/><circle cx="1012.20" cy="156.60" r="9.70" fill="#f0e81c" stroke="#f8a824" stroke-width="1.1"/><path d="M1021.88 172.20C1021.46 172.50 1020.38 173.76 1019.34 174.01C1018.31 174.25 1016.69 174.19 1015.65 173.66C1014.61 173.14 1013.61 171.87 1013.11 170.83C1012.61 169.79 1012.50 168.64 1012.65 167.41C1012.80 166.19 1013.23 164.49 1014.04 163.51C1014.84 162.53 1016.50 161.80 1017.50 161.56C1018.50 161.31 1019.51 161.87 1020.04 162.04C1020.56 162.22 1020.54 162.53 1020.64 162.63C1020.74 162.13 1020.73 160.39 1021.28 159.60C1021.84 158.81 1022.98 158.22 1023.96 157.89C1024.95 157.57 1026.15 157.41 1027.19 157.65C1028.23 157.89 1029.44 158.59 1030.19 159.36C1030.95 160.13 1031.43 161.58 1031.72 162.29C1032.00 163.00 1031.87 163.39 1031.90 163.61C1032.35 163.75 1033.79 163.93 1034.58 164.49C1035.37 165.04 1036.20 166.03 1036.66 166.93C1037.12 167.82 1037.47 168.88 1037.35 169.86C1037.23 170.83 1036.89 172.05 1035.96 172.79C1035.04 173.52 1033.43 174.05 1031.81 174.25C1030.19 174.45 1027.92 174.35 1026.27 174.01C1024.62 173.66 1022.61 172.50 1021.88 172.20Z" fill="#fafafa" stroke="#2a5db0" stroke-width="2.5" stroke-linejoin="round"/><path d="M1027.42 166.78C1027.54 166.48 1027.69 165.45 1028.12 164.97C1028.54 164.49 1029.33 164.13 1029.96 163.90C1030.59 163.67 1031.58 163.66 1031.90 163.61" fill="none" stroke="#2a5db0" stroke-width="2.5" stroke-linecap="round"/>
<text x="997.60" y="220.80" font-size="25.08" fill="#cc0000" textLength="35.34" lengthAdjust="spacingAndGlyphs">-1°</text>
<text x="997.60" y="248.80" font-size="25.08" fill="#1e90ff" textLength="35.34" lengthAdjust="spacingAndGlyphs">-5°</text>
<text x="1079.73" y="106.50" font-size="20.48" fill="#000" textLength="27.97" lengthAdjust="spacingAndGlyphs">tor</text>
<text x="1066.60" y="129.00" font-size="20.59" fill="#000" textLength="54.86" lengthAdjust="spacingAndGlyphs">30.12</text>
<polygon points="1102.59,161.02 1112.92,162.94 1113.66,159.72 1103.53,156.92" fill="#f0e81c" stroke="#9c9c8c" stroke-width="0.65" stroke-linejoin="round"/><polygon points="1097.19,165.81 1103.14,174.48 1105.94,172.73 1100.75,163.59" fill="#f0e81c" stroke="#9c9c8c" stroke-width="0.65" stroke-linejoin="round"/><polygon points="1089.98,165.39 1088.06,175.72 1091.27,176.47 1094.07,166.34" fill="#f0e81c" stroke="#9c9c8c" stroke-width="0.65" stroke-linejoin="round"/><polygon points="1085.18,159.99 1076.52,165.94 1078.27,168.74 1087.41,163.56" fill="#f0e81c" stroke="#9c9c8c" stroke-width="0.65" stroke-linejoin="round"/><polygon points="1085.61,152.78 1075.27,150.86 1074.53,154.08 1084.66,156.88" fill="#f0e81c" stroke="#9c9c8c" stroke-width="0.65" stroke-linejoin="round"/><polygon points="1091.00,147.99 1085.06,139.32 1082.26,141.07 1087.44,150.21" fill="#f0e81c" stroke="#9c9c8c" stroke-width="0.65" stroke-linejoin="round"/><polygon points="1098.21,148.41 1100.14,138.08 1096.92,137.33 1094.12,147.46" fill="#f0e81c" stroke="#9c9c8c" stroke-width="0.65" stroke-linejoin="round"/><polygon points="1103.01,153.81 1111.68,147.86 1109.93,145.06 1100.79,150.24" fill="#f0e81c" stroke="#9c9c8c" stroke-width="0.65" stroke-linejoin="round"/><circle cx="1094.10" cy="156.90" r="9.70" fill="#f0e81c" stroke="#f8a824" stroke-width="1.1"/>
<text x="1076.44" y="220.80" font-size="25.08" fill="#cc0000" textLength="35.34" lengthAdjust="spacingAndGlyphs">-2°</text>
<text x="1076.44" y="248.80" font-size="25.08" fill="#1e90ff" textLength="35.34" lengthAdjust="spacingAndGlyphs">-6°</text>
<rect x="0" y="365" width="1152" height="5" fill="#fafafa"/>
<rect x="0" y="410" width="1152" height="225" fill="#fafafa"/>
<text x="579.60" y="407.50" font-size="23.60" fill="#000" text-anchor="middle">Temperatura (°C)</text>
<clipPath id="ct"><rect x="69.5" y="417.5" width="1025.00" height="197.00"/></clipPath>
<line x1="69.5" x2="74.9" y1="611.50" y2="611.50" stroke="#222" stroke-width="1"/>
<line x1="69.5" x2="74.9" y1="601.50" y2="601.50" stroke="#222" stroke-width="1"/>
<line x1="69.5" x2="74.9" y1="592.50" y2="592.50" stroke="#222" stroke-width="1"/>
<line x1="69.5" x2="74.9" y1="582.50" y2="582.50" stroke="#222" stroke-width="1"/>
<line x1="69.5" x2="74.9" y1="563.50" y2="563.50" stroke="#222" stroke-width="1"/>
<line x1="69.5" x2="74.9" y1="553.50" y2="553.50" stroke="#222" stroke-width="1"/>
<line x1="69.5" x2="74.9" y1="544.50" y2="544.50" stroke="#222" stroke-width="1"/>
<line x1="69.5" x2="74.9" y1="534.50" y2="534.50" stroke="#222" stroke-width="1"/>
<line x1="69.5" x2="74.9" y1="515.50" y2="515.50" stroke="#222" stroke-width="1"/>
<line x1="69.5" x2="74.9" y1="505.50" y2="505.50" stroke="#222" stroke-width="1"/>
<line x1="69.5" x2="74.9" y1="496.50" y2="496.50" stroke="#222" stroke-width="1"/>
<line x1="69.5" x2="74.9" y1="486.50" y2="486.50" stroke="#222" stroke-width="1"/>
<line x1="69.5" x2="74.9" y1="467.50" y2="467.50" stroke="#222" stroke-width="1"/>
<line x1="69.5" x2="74.9" y1="457.50" y2="457.50" stroke="#222" stroke-width="1"/>
<line x1="69.5" x2="74.9" y1="448.50" y2="448.50" stroke="#222" stroke-width="1"/>
<line x1="69.5" x2="74.9" y1="438.50" y2="438.50" stroke="#222" stroke-width="1"/>
<line x1="69.5" x2="74.9" y1="419.50" y2="419.50" stroke="#222" stroke-width="1"/>
<g clip-path="url(#ct)">
<polygon points="69.5,509.8 148.3,480.2 227.2,474.0 306.0,477.1 384.9,484.8 463.7,483.8 542.6,470.2 621.4,499.2 700.3,508.5 779.1,520.0 858.0,523.0 936.8,532.0 1015.7,538.5 1094.5,545.0 1094.5,612.2 1015.7,608.1 936.8,595.3 858.0,580.3 779.1,565.5 700.3,554.3 621.4,541.9 542.6,509.8 463.7,518.1 384.9,512.9 306.0,515.4 227.2,506.2 148.3,496.9 69.5,527.5" fill="#6495ed" fill-opacity="0.5"/>
<polygon points="69.5,477.1 148.3,453.5 227.2,434.8 306.0,468.1 384.9,480.0 463.7,471.7 542.6,457.3 621.4,469.2 700.3,489.4 779.1,496.4 858.0,496.0 936.8,500.5 1015.7,504.5 1094.5,512.9 1094.5,577.5 1015.7,572.0 936.8,560.0 858.0,551.0 779.1,541.5 700.3,536.0 621.4,512.2 542.6,497.3 463.7,506.0 384.9,508.1 306.0,506.2 227.2,467.7 148.3,470.8 69.5,495.8" fill="#32cd32" fill-opacity="0.4"/>
<rect x="69.5" y="428" width="1025.0" height="2" fill="#000" fill-opacity="0.145"/>
<rect x="69.5" y="476" width="1025.0" height="2" fill="#000" fill-opacity="0.145"/>
<rect x="69.5" y="572" width="1025.0" height="2" fill="#000" fill-opacity="0.145"/>
<rect x="226" y="417.5" width="2" height="197.0" fill="#000" fill-opacity="0.145"/>
<rect x="384" y="417.5" width="2" height="197.0" fill="#000" fill-opacity="0.145"/>
<rect x="542" y="417.5" width="2" height="197.0" fill="#000" fill-opacity="0.145"/>
<rect x="699" y="417.5" width="2" height="197.0" fill="#000" fill-opacity="0.145"/>
<rect x="857" y="417.5" width="2" height="197.0" fill="#000" fill-opacity="0.145"/>
<rect x="1015" y="417.5" width="2" height="197.0" fill="#000" fill-opacity="0.145"/>
<rect x="69.5" y="525" width="1025.0" height="1" fill="#000" fill-opacity="0.72"/>
<polyline points="69.5,518.5 148.3,488.5 227.2,490.0 306.0,495.8 384.9,498.8 463.7,500.4 542.6,489.4 621.4,520.5 700.3,532.4 779.1,542.6 858.0,553.3 936.8,564.2 1015.7,574.3 1094.5,580.2" fill="none" stroke="#1e90ff" stroke-width="5.2" stroke-linejoin="round"/>
<polyline points="69.5,486.9 148.3,461.9 227.2,451.0 306.0,487.3 384.9,494.2 463.7,489.0 542.6,476.9 621.4,490.3 700.3,512.2 779.1,519.0 858.0,522.6 936.8,531.6 1015.7,537.7 1094.5,544.5" fill="none" stroke="#ff0000" stroke-width="5.2" stroke-linejoin="round"/>
</g>
<rect x="69.5" y="417.5" width="1025.00" height="197.00" fill="none" stroke="#262626" stroke-width="1"/>
<text x="40.86" y="437.30" font-size="19.96" fill="#000" textLength="23.36" lengthAdjust="spacingAndGlyphs">10</text>
<text x="53.63" y="484.90" font-size="19.96" fill="#000" textLength="10.57" lengthAdjust="spacingAndGlyphs">5</text>
<text x="52.99" y="533.00" font-size="19.96" fill="#000" textLength="11.20" lengthAdjust="spacingAndGlyphs">0</text>
<text x="37.79" y="581.00" font-size="19.96" fill="#000" textLength="26.59" lengthAdjust="spacingAndGlyphs">−5</text>
<text x="854.00" y="484.20" font-size="19.17" fill="#0000ff" text-anchor="middle" stroke="#0000ff" stroke-width="0.3">© vreme.us &amp; vreme.pro</text>
<rect x="0" y="675" width="1152" height="260" fill="#fafafa"/>
<text x="577.90" y="667.60" font-size="23.74" fill="#000" text-anchor="middle">Količina padavin (mm) / Možnost padavin (%)</text>
<text x="55.29" y="692.70" font-size="20.48" fill="#000" textLength="29.77" lengthAdjust="spacingAndGlyphs">sre</text>
<text x="133.40" y="692.70" font-size="20.48" fill="#000" textLength="30.09" lengthAdjust="spacingAndGlyphs">čet</text>
<text x="211.26" y="692.70" font-size="20.48" fill="#000" textLength="31.57" lengthAdjust="spacingAndGlyphs">pet</text>
<text x="289.70" y="692.70" font-size="20.48" fill="#000" textLength="33.98" lengthAdjust="spacingAndGlyphs">sob</text>
<text x="367.26" y="692.70" font-size="20.48" fill="#000" textLength="36.20" lengthAdjust="spacingAndGlyphs">ned</text>
<text x="446.13" y="692.70" font-size="20.48" fill="#000" textLength="36.22" lengthAdjust="spacingAndGlyphs">pon</text>
<text x="529.11" y="692.70" font-size="20.48" fill="#000" textLength="27.97" lengthAdjust="spacingAndGlyphs">tor</text>
<text x="607.21" y="692.70" font-size="20.48" fill="#000" textLength="29.77" lengthAdjust="spacingAndGlyphs">sre</text>
<text x="685.33" y="692.70" font-size="20.48" fill="#000" textLength="30.09" lengthAdjust="spacingAndGlyphs">čet</text>
<text x="763.18" y="692.70" font-size="20.48" fill="#000" textLength="31.57" lengthAdjust="spacingAndGlyphs">pet</text>
<text x="841.62" y="692.70" font-size="20.48" fill="#000" textLength="33.98" lengthAdjust="spacingAndGlyphs">sob</text>
<text x="919.18" y="692.70" font-size="20.48" fill="#000" textLength="36.20" lengthAdjust="spacingAndGlyphs">ned</text>
<text x="998.05" y="692.70" font-size="20.48" fill="#000" textLength="36.22" lengthAdjust="spacingAndGlyphs">pon</text>
<text x="1081.03" y="692.70" font-size="20.48" fill="#000" textLength="27.97" lengthAdjust="spacingAndGlyphs">tor</text>
<clipPath id="cp"><rect x="69.5" y="700.5" width="1025.00" height="197.00"/></clipPath>
<g clip-path="url(#cp)">
<rect x="69.5" y="710" width="1025.0" height="2" fill="#000" fill-opacity="0.145"/>
<rect x="69.5" y="756" width="1025.0" height="2" fill="#000" fill-opacity="0.145"/>
<rect x="69.5" y="803" width="1025.0" height="2" fill="#000" fill-opacity="0.145"/>
<rect x="69.5" y="849" width="1025.0" height="2" fill="#000" fill-opacity="0.145"/>
<rect x="226" y="700.5" width="2" height="197.0" fill="#000" fill-opacity="0.145"/>
<rect x="384" y="700.5" width="2" height="197.0" fill="#000" fill-opacity="0.145"/>
<rect x="542" y="700.5" width="2" height="197.0" fill="#000" fill-opacity="0.145"/>
<rect x="699" y="700.5" width="2" height="197.0" fill="#000" fill-opacity="0.145"/>
<rect x="857" y="700.5" width="2" height="197.0" fill="#000" fill-opacity="0.145"/>
<rect x="1015" y="700.5" width="2" height="197.0" fill="#000" fill-opacity="0.145"/>
<rect x="43.10" y="798.10" width="52.8" height="99.40" fill="#0050ff"/>
<rect x="279.64" y="895.80" width="52.8" height="1.70" fill="#0050ff"/>
<rect x="358.48" y="857.10" width="52.8" height="40.40" fill="#0050ff"/>
<rect x="437.33" y="893.10" width="52.8" height="4.40" fill="#0050ff"/>
<rect x="516.18" y="827.80" width="52.8" height="69.70" fill="#0050ff"/>
<rect x="68" y="715.4" width="3" height="166.10" fill="#808080"/>
<line x1="59.20" x2="79.80" y1="715.4" y2="715.4" stroke="#808080" stroke-width="3"/>
<line x1="59.20" x2="79.80" y1="881.5" y2="881.5" stroke="#808080" stroke-width="3"/>
<line x1="138.15" x2="158.55" y1="896.4" y2="896.4" stroke="#333" stroke-width="1.3"/>
<line x1="216.99" x2="237.39" y1="896.4" y2="896.4" stroke="#333" stroke-width="1.3"/>
<rect x="305" y="842.6" width="3" height="54.90" fill="#808080"/>
<line x1="295.74" x2="316.34" y1="842.6" y2="842.6" stroke="#808080" stroke-width="3"/>
<rect x="383" y="823.4" width="3" height="67.00" fill="#808080"/>
<line x1="374.58" x2="395.18" y1="823.4" y2="823.4" stroke="#808080" stroke-width="3"/>
<line x1="374.58" x2="395.18" y1="890.4" y2="890.4" stroke="#808080" stroke-width="3"/>
<rect x="462" y="784.5" width="3" height="113.00" fill="#808080"/>
<line x1="453.43" x2="474.03" y1="784.5" y2="784.5" stroke="#808080" stroke-width="3"/>
<rect x="541" y="717.4" width="3" height="180.10" fill="#808080"/>
<line x1="532.28" x2="552.88" y1="717.4" y2="717.4" stroke="#808080" stroke-width="3"/>
<line x1="611.22" x2="631.62" y1="896.4" y2="896.4" stroke="#333" stroke-width="1.3"/>
<line x1="690.07" x2="710.47" y1="896.4" y2="896.4" stroke="#333" stroke-width="1.3"/>
<line x1="768.91" x2="789.31" y1="896.4" y2="896.4" stroke="#333" stroke-width="1.3"/>
<line x1="847.76" x2="868.16" y1="896.4" y2="896.4" stroke="#333" stroke-width="1.3"/>
<line x1="926.61" x2="947.01" y1="896.4" y2="896.4" stroke="#333" stroke-width="1.3"/>
<line x1="1005.45" x2="1025.85" y1="896.4" y2="896.4" stroke="#333" stroke-width="1.3"/>
<line x1="1084.30" x2="1104.70" y1="896.4" y2="896.4" stroke="#333" stroke-width="1.3"/>
</g>
<rect x="69.5" y="700.5" width="1025.00" height="197.00" fill="none" stroke="#262626" stroke-width="1"/>
<text x="22.61" y="707.20" font-size="19.96" fill="#000" textLength="41.63" lengthAdjust="spacingAndGlyphs">10.0</text>
<text x="35.19" y="765.20" font-size="19.96" fill="#000" textLength="29.09" lengthAdjust="spacingAndGlyphs">7.5</text>
<text x="34.92" y="812.20" font-size="19.96" fill="#000" textLength="29.30" lengthAdjust="spacingAndGlyphs">5.0</text>
<text x="35.03" y="858.50" font-size="19.96" fill="#000" textLength="29.25" lengthAdjust="spacingAndGlyphs">2.5</text>
<text x="34.72" y="893.70" font-size="19.96" fill="#000" textLength="29.51" lengthAdjust="spacingAndGlyphs">0.0</text>
<text x="42.83" y="927.00" font-size="25.08" fill="#1058b8" textLength="52.32" lengthAdjust="spacingAndGlyphs">70%</text>
<text x="129.58" y="927.00" font-size="25.08" fill="#52d2e4" textLength="36.83" lengthAdjust="spacingAndGlyphs">5%</text>
<text x="208.42" y="927.00" font-size="25.08" fill="#52d2e4" textLength="36.83" lengthAdjust="spacingAndGlyphs">5%</text>
<text x="279.29" y="927.00" font-size="25.08" fill="#3a9bd5" textLength="52.52" lengthAdjust="spacingAndGlyphs">25%</text>
<text x="358.13" y="927.00" font-size="25.08" fill="#3a9bd5" textLength="52.52" lengthAdjust="spacingAndGlyphs">25%</text>
<text x="436.98" y="927.00" font-size="25.08" fill="#3a9bd5" textLength="52.52" lengthAdjust="spacingAndGlyphs">25%</text>
<text x="516.25" y="927.00" font-size="25.08" fill="#3a9bd5" textLength="52.38" lengthAdjust="spacingAndGlyphs">40%</text>
<text x="595.10" y="927.00" font-size="25.08" fill="#3a9bd5" textLength="52.38" lengthAdjust="spacingAndGlyphs">45%</text>
<text x="673.94" y="927.00" font-size="25.08" fill="#3a9bd5" textLength="52.38" lengthAdjust="spacingAndGlyphs">45%</text>
<text x="752.79" y="927.00" font-size="25.08" fill="#3a9bd5" textLength="52.38" lengthAdjust="spacingAndGlyphs">40%</text>
<text x="831.57" y="927.00" font-size="25.08" fill="#3a9bd5" textLength="52.11" lengthAdjust="spacingAndGlyphs">30%</text>
<text x="910.42" y="927.00" font-size="25.08" fill="#3a9bd5" textLength="52.11" lengthAdjust="spacingAndGlyphs">30%</text>
<text x="988.90" y="927.00" font-size="25.08" fill="#3a9bd5" textLength="52.52" lengthAdjust="spacingAndGlyphs">25%</text>
<text x="1067.75" y="927.00" font-size="25.08" fill="#3a9bd5" textLength="52.52" lengthAdjust="spacingAndGlyphs">20%</text>
</svg>
</body></html>
